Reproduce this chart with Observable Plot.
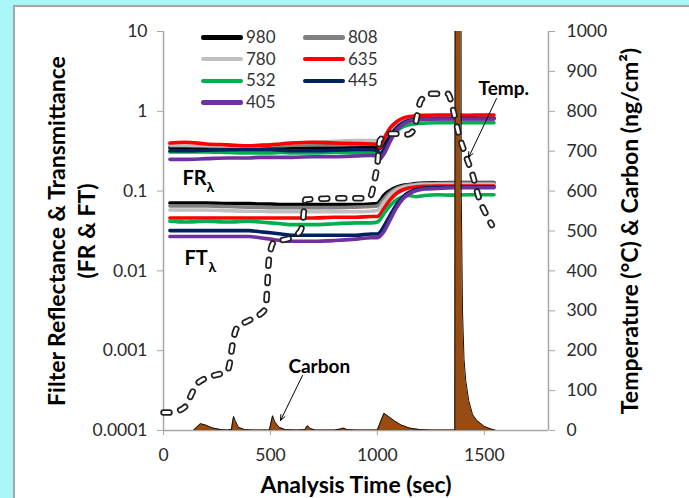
<!DOCTYPE html>
<html><head><meta charset="utf-8">
<script src="https://cdn.jsdelivr.net/npm/d3@7"></script>
<script src="https://cdn.jsdelivr.net/npm/@observablehq/plot@0.6"></script>
<style>
html,body{margin:0;padding:0;width:689px;height:498px;overflow:hidden;background:#a9f7f9;font-family:Lato,sans-serif}
#panel{position:absolute;left:13px;top:5px;width:720px;height:620px;background:#fff;border:2px solid #a6a6a6;box-sizing:border-box}
#chart{position:absolute;left:0;top:0;width:689px;height:498px}
#chart svg{position:absolute;left:0;top:0}
.legline{position:absolute;height:4.5px;width:42px;border-radius:2.25px}
.legtxt{position:absolute;font-size:17px;color:#333;line-height:20px}
</style></head><body>
<div id="panel"></div><div id="chart"></div>
<script>
// ---------- data ----------
const times = [30,100,200,300,400,450,500,550,600,700,800,900,970,1000,1010,1030,1060,1090,1120,1150,1180,1220,1280,1350,1420,1480,1545];

const fr980 = [0.35,0.35,0.345,0.345,0.345,0.345,0.345,0.35,0.35,0.35,0.35,0.35,0.355,0.35,0.34,0.40,0.55,0.68,0.76,0.80,0.82,0.83,0.84,0.84,0.84,0.84,0.84];
const fr808 = [0.37,0.37,0.365,0.36,0.36,0.365,0.37,0.37,0.375,0.38,0.38,0.385,0.39,0.39,0.37,0.44,0.58,0.70,0.77,0.81,0.83,0.84,0.85,0.85,0.85,0.85,0.85];
const fr780 = [0.38,0.38,0.375,0.37,0.37,0.375,0.38,0.39,0.40,0.41,0.42,0.43,0.43,0.43,0.40,0.47,0.60,0.72,0.79,0.82,0.84,0.85,0.86,0.86,0.86,0.86,0.86];
const fr635 = [0.40,0.41,0.39,0.38,0.37,0.375,0.38,0.39,0.40,0.41,0.40,0.395,0.39,0.38,0.35,0.45,0.62,0.74,0.82,0.86,0.88,0.89,0.90,0.90,0.89,0.90,0.90];
const fr532 = [0.31,0.31,0.31,0.305,0.30,0.30,0.30,0.305,0.30,0.30,0.305,0.30,0.30,0.29,0.27,0.32,0.44,0.56,0.64,0.68,0.70,0.71,0.72,0.72,0.72,0.72,0.72];
const fr445 = [0.32,0.32,0.325,0.33,0.33,0.33,0.33,0.325,0.32,0.32,0.325,0.33,0.33,0.32,0.29,0.33,0.47,0.62,0.72,0.77,0.79,0.80,0.81,0.81,0.81,0.81,0.81];
const fr405 = [0.25,0.25,0.255,0.26,0.26,0.265,0.265,0.265,0.265,0.27,0.27,0.275,0.28,0.275,0.25,0.29,0.42,0.58,0.69,0.75,0.78,0.79,0.80,0.80,0.80,0.80,0.80];

const ft980 = [0.071,0.071,0.071,0.070,0.070,0.069,0.069,0.068,0.068,0.068,0.068,0.068,0.069,0.070,0.074,0.088,0.102,0.112,0.118,0.121,0.124,0.126,0.127,0.128,0.128,0.128,0.128];
const ft808 = [0.065,0.065,0.065,0.064,0.063,0.063,0.062,0.062,0.062,0.062,0.062,0.063,0.064,0.065,0.068,0.080,0.096,0.108,0.115,0.119,0.122,0.124,0.125,0.126,0.126,0.126,0.126];
const ft780 = [0.058,0.058,0.058,0.057,0.056,0.056,0.055,0.055,0.055,0.055,0.055,0.055,0.056,0.057,0.060,0.072,0.090,0.104,0.112,0.116,0.119,0.121,0.122,0.122,0.122,0.122,0.122];
const ft635 = [0.046,0.046,0.046,0.046,0.046,0.046,0.046,0.046,0.046,0.046,0.047,0.047,0.048,0.048,0.050,0.060,0.078,0.094,0.104,0.110,0.113,0.115,0.116,0.116,0.116,0.116,0.116];
const ft532 = [0.042,0.041,0.042,0.041,0.042,0.041,0.040,0.039,0.038,0.038,0.039,0.040,0.040,0.041,0.043,0.052,0.066,0.078,0.085,0.088,0.085,0.088,0.090,0.089,0.090,0.090,0.090];
const ft445 = [0.032,0.032,0.032,0.032,0.032,0.031,0.030,0.029,0.028,0.028,0.028,0.028,0.029,0.029,0.030,0.036,0.050,0.068,0.085,0.097,0.104,0.109,0.111,0.112,0.112,0.112,0.112];
const ft405 = [0.027,0.027,0.027,0.027,0.027,0.026,0.025,0.024,0.0235,0.0235,0.024,0.025,0.026,0.026,0.027,0.031,0.044,0.062,0.080,0.093,0.101,0.106,0.108,0.110,0.110,0.110,0.110];

const wavelengths = ["980","808","780","635","532","445","405"];
const colors = ["#000000","#808080","#c0c0c0","#ff0000","#00b050","#002060","#7030a0"];
const frSeries = [fr980,fr808,fr780,fr635,fr532,fr445,fr405];
const ftSeries = [ft980,ft808,ft780,ft635,ft532,ft445,ft405];

const tempTime = [0,23,60,107,130,159,220,299,310,318,342,407,477,486,491,500,515,594,640,650,664,749,842,936,970,983,1001,1011,1062,1142,1165,1179,1203,1250,1329,1357,1380,1413,1446,1474,1516,1535];
const tempVal  = [45,45,48,63,90,118,135,150,170,200,256,278,305,368,418,450,471,483,500,518,579,581,582,582,590,619,672,727,744,742,750,772,827,844,844,797,744,689,639,584,534,515];

const carbonTime = [30,140,155,173,195,230,270,300,318,323,328,335,350,380,420,495,503,510,520,540,570,620,662,668,674,685,710,800,830,840,860,900,1000,1012,1031,1050,1080,1110,1150,1200,1250,1362,1366,1388,1392,1398,1405,1413,1427,1445,1465,1500,1530,1555];
const carbonVal  = [0,0,8,17,14,6,2,1,3,22,35,25,8,2,1,1,20,37,22,8,2,1,2,9,12,5,1,1,4,6,2,1,1,18,43,36,24,14,6,2,1,1,3000,3000,600,300,180,125,75,40,25,10,4,0];

const leftTicks = [0.0001,0.001,0.01,0.1,1,10];
const leftTickLabels = ["0.0001","0.001","0.01","0.1","1","10"];
const xTicks = [0,500,1000,1500];
const rightTicks = [0,100,200,300,400,500,600,700,800,900,1000];

const subLabels = ["FR","FT"];
const subLabelT = [89,98];
const subLabelV = [0.119,0.0119];

const noteText = ["Temp.","Carbon"];
const noteT = [1473,584];
const noteV = [842,145];
const arrowT1 = [1557,650], arrowV1 = [832,138], arrowT2 = [1426,547], arrowV2 = [684,25];

// ---------- build ----------
const W = 689, H = 498;
const M = {marginLeft:163, marginRight:141, marginTop:31, marginBottom:68};
const axisCol = "#a6a6a6", txtCol = "#2a2a2a";
const font = "Lato";
const titleSize = 23;

const lineMarks = [];
for (let i = 0; i < colors.length; i++) {
  for (const s of [frSeries[i], ftSeries[i]]) {
    const rows = times.map((t,k)=>({t, v:s[k]}));
    lineMarks.push(Plot.line(rows,{x:"t",y:"v",stroke:colors[i],strokeWidth:3.6,curve:"monotone-x",strokeLinejoin:"round",strokeLinecap:"round"}));
  }
}
const subRows = subLabels.map((s,i)=>({s,t:subLabelT[i],v:subLabelV[i]}));

const p1 = Plot.plot({
  width:W, height:H, ...M,
  style:{background:"transparent", fontFamily:font, overflow:"visible"},
  x:{domain:[0,1800], axis:null},
  y:{type:"log", domain:[0.0001,10], axis:null},
  marks:[
    Plot.ruleY([0.0001],{stroke:axisCol,strokeWidth:1.5}),
    Plot.ruleX([0],{stroke:axisCol,strokeWidth:1.5}),
    Plot.axisY({ticks:leftTicks, tickFormat:d=>leftTickLabels[leftTicks.indexOf(d)], tickSize:6, tickPadding:10, fontSize:17.5, stroke:axisCol, fill:txtCol, label:null}),
    Plot.axisX({ticks:xTicks, tickFormat:d=>String(d), tickSize:5, tickPadding:13, fontSize:17.5, stroke:axisCol, fill:txtCol, label:null}),
    ...lineMarks,
    Plot.text(subRows,{x:"t",y:"v",text:"s",textAnchor:"start",lineAnchor:"bottom",fontSize:20,fontWeight:"bold",fill:"#000",fontFamily:font}),
    Plot.text(subRows,{x:"t",y:"v",text:()=>"λ",textAnchor:"start",lineAnchor:"bottom",dx:24,dy:7,fontSize:14,fontWeight:"bold",fill:"#000",fontFamily:font}),
    Plot.text(["Filter Reflectance & Transmittance"],{frameAnchor:"left",dx:-106,rotate:-90,fontSize:titleSize,fontWeight:"bold",fill:"#000",lineAnchor:"middle",textAnchor:"middle",fontFamily:font}),
    Plot.text(["(FR & FT)"],{frameAnchor:"left",dx:-76,rotate:-90,fontSize:titleSize,fontWeight:"bold",fill:"#000",lineAnchor:"middle",textAnchor:"middle",fontFamily:font}),
    Plot.text(["Analysis Time (sec)"],{frameAnchor:"bottom",dy:55,fontSize:titleSize,fontWeight:"bold",fill:"#000",lineAnchor:"middle",fontFamily:font})
  ]
});

const tempRows = tempTime.map((t,i)=>({t,v:tempVal[i]}));
const carbonRows = carbonTime.map((t,i)=>({t,c:carbonVal[i]}));
const noteRows = noteText.map((s,i)=>({s,t:noteT[i],v:noteV[i]}));
const arrowRows = arrowT1.map((t,i)=>({x1:t,y1:arrowV1[i],x2:arrowT2[i],y2:arrowV2[i]}));

const p2 = Plot.plot({
  width:W, height:H, ...M,
  style:{background:"transparent", fontFamily:font, overflow:"visible"},
  x:{domain:[0,1800], axis:null},
  y:{domain:[0,1000], axis:null},
  marks:[
    Plot.areaY(carbonRows,{x:"t",y:"c",fill:"#994c12",clip:true}),
    Plot.lineY(carbonRows,{x:"t",y:"c",stroke:"#111",strokeWidth:1,clip:true}),
    Plot.line(tempRows,{x:"t",y:"v",stroke:"#222",strokeWidth:6.5,strokeDasharray:"6,11",strokeLinecap:"round",curve:"monotone-x"}),
    Plot.line(tempRows,{x:"t",y:"v",stroke:"#fff",strokeWidth:3,strokeDasharray:"6,11",strokeLinecap:"round",curve:"monotone-x"}),
    Plot.ruleX([1800],{stroke:axisCol,strokeWidth:1.5}),
    Plot.axisY({anchor:"right",ticks:rightTicks, tickFormat:d=>String(d), tickSize:6, tickPadding:12, fontSize:17.5, stroke:axisCol, fill:txtCol, label:null}),
    Plot.text(noteRows,{x:"t",y:"v",text:"s",textAnchor:"start",lineAnchor:"bottom",fontSize:19,fontWeight:"bold",fill:"#000",fontFamily:font}),
    Plot.arrow(arrowRows,{x1:"x1",y1:"y1",x2:"x2",y2:"y2",stroke:"#000",strokeWidth:1,headLength:9,headAngle:45}),
    Plot.text(["Temperature (°C) & Carbon (ng/cm²)"],{frameAnchor:"right",dx:82,rotate:-90,fontSize:titleSize,fontWeight:"bold",fill:"#000",lineAnchor:"middle",textAnchor:"middle",fontFamily:font})
  ]
});

const chart = document.getElementById("chart");
chart.appendChild(p1);
chart.appendChild(p2);

// legend
const legX = [200.7, 303], legTxtX = [246, 348], legY0 = 37.5, legDY = 21.7;
wavelengths.forEach((w,i)=>{
  const col = i%2, row = Math.floor(i/2);
  const cy = legY0 + row*legDY;
  const ln = document.createElement("div");
  ln.className = "legline";
  ln.style.left = legX[col]+"px"; ln.style.top = (cy-2.25)+"px"; ln.style.background = colors[i];
  chart.appendChild(ln);
  const tx = document.createElement("div");
  tx.className = "legtxt";
  tx.style.left = legTxtX[col]+"px"; tx.style.top = (cy-10.5)+"px";
  tx.textContent = w;
  chart.appendChild(tx);
});
</script></body></html>
